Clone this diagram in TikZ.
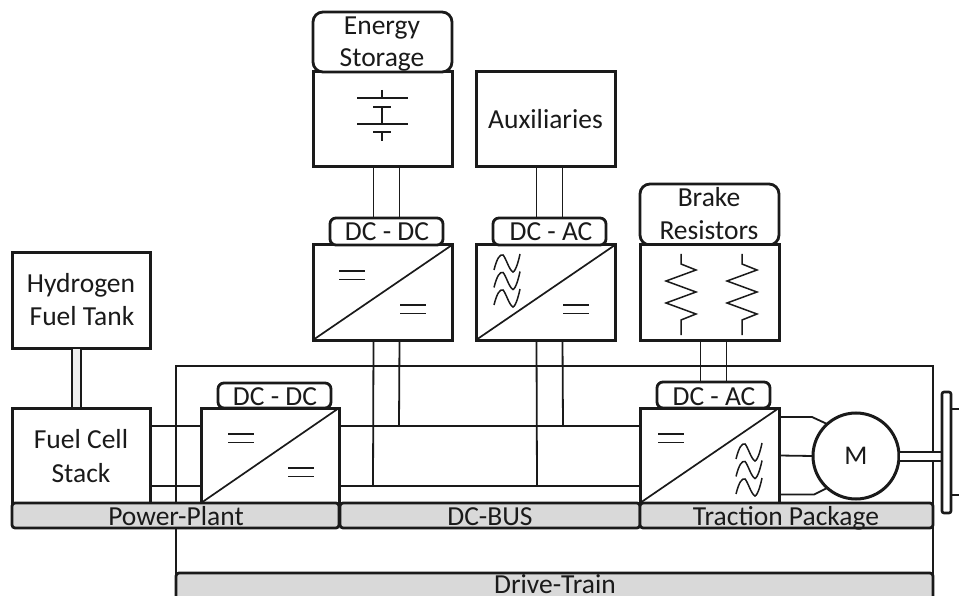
\documentclass[tikz,border=0pt]{standalone}
\usepackage{fontspec}
\setmainfont{Carlito}
\definecolor{ink}{HTML}{1A1A1A}
\definecolor{barfill}{HTML}{D9D9D9}
\definecolor{pipefill}{HTML}{EFEFEF}
\tikzset{
  base/.style={draw=ink,inner sep=0pt,outer sep=0pt,text=ink,font=\fontsize{27}{33}\selectfont,align=center},
  unitbox/.style={base,rectangle,line width=3pt,fill=white,anchor=north west,minimum width=139pt,minimum height=95pt},
  capbox/.style={base,rectangle,rounded corners=10pt,line width=2.8pt,fill=white,anchor=north west,minimum width=139pt,minimum height=60pt},
  tagbox/.style={base,rectangle,rounded corners=6pt,line width=2.8pt,fill=white,anchor=north west,minimum width=113pt,minimum height=27pt},
  barbox/.style={base,rectangle,rounded corners=3pt,line width=2.8pt,fill=barfill,anchor=north west,minimum height=25pt},
  wire/.style={draw=ink,line width=1.8pt},
  sym/.style={draw=ink,line width=1.5pt},
  lbl/.style={inner sep=0pt,outer sep=0pt,text=ink,anchor=base,font=\fontsize{27.5}{33}\selectfont},
}
\newcommand{\eqsign}[2]{\draw[sym] (#1,#2) -- ++(26,0) (#1,#2+8.5) -- ++(26,0);}
\newcommand{\onewave}[2]{\draw[sym] (#1,#2+16) .. controls (#1+3,#2+4) and (#1+6,#2) .. (#1+9,#2+1) .. controls (#1+12,#2+4) and (#1+15,#2+16) .. (#1+19,#2+18) .. controls (#1+22,#2+17) and (#1+25,#2+5) .. (#1+26,#2);}
\newcommand{\acsign}[2]{\onewave{#1}{#2}\onewave{#1}{#2+17.5}\onewave{#1}{#2+35}}
\newcommand{\zigzag}[1]{\draw[sym] (#1,254) -- (#1,264) -- (#1+15,270) -- (#1-15,281) -- (#1+15,292) -- (#1-15,303) -- (#1+15,314) -- (#1,320) -- (#1,335);}
\begin{document}
\begin{tikzpicture}[x=1pt,y=-1pt]
\useasboundingbox (0,0) rectangle (959,596);
\clip (0,0) rectangle (959,596);
% drive-train outline
\node[base,rectangle,line width=2.8pt,anchor=north west,minimum width=757pt,minimum height=230pt] (drive) at (176,366) {};
% bus ends and junctions
\coordinate (busTopL) at (339,426);
\coordinate (busTopR) at (640,426);
\coordinate (busBotL) at (339,486);
\coordinate (busBotR) at (640,486);
\draw[wire] (busTopL) -- (busTopR);
\draw[wire] (busBotL) -- (busBotR);
\coordinate (j1) at (373,486);
\coordinate (j2) at (399,426);
\coordinate (j3) at (537,486);
\coordinate (j4) at (563,426);
% boxes
\node[unitbox] (es) at (313,72) {};
\node[capbox] (escap) at (313,12) {};
\node[unitbox] (aux) at (476,72) {\fontsize{27.5}{33}\selectfont Auxiliaries};
\node[unitbox] (conv1) at (313,245) {};
\node[tagbox] (tag1) at (330,218) {};
\node[unitbox] (conv2) at (476,245) {};
\node[tagbox] (tag2) at (493,218) {};
\node[capbox,minimum height=61pt] (brcap) at (640,184) {};
\node[unitbox] (br) at (640,245) {};
\node[tagbox,minimum height=26pt] (tag3) at (657,382) {};
\node[unitbox] (conv3) at (640,408) {};
\node[tagbox,minimum height=25pt] (tag4) at (218,383) {};
\node[unitbox,minimum width=138pt] (conv4) at (201,408) {};
\node[unitbox,minimum width=138pt] (fc) at (12,408) {};
\node[unitbox,minimum width=138pt] (tank) at (12,253) {};
% connectors
\draw[wire] ([xshift=-9pt]es.south) -- ([xshift=-9pt]conv1.north |- tag1.north);
\draw[wire] ([xshift=17pt]es.south) -- ([xshift=17pt]conv1.north |- tag1.north);
\draw[wire] ([xshift=-9pt]aux.south) -- ([xshift=-9pt]conv2.north |- tag2.north);
\draw[wire] ([xshift=17pt]aux.south) -- ([xshift=17pt]conv2.north |- tag2.north);
\draw[wire] ([xshift=-9pt]conv1.south) -- (j1);
\draw[wire] ([xshift=17pt]conv1.south) -- (j2);
\draw[wire] ([xshift=-9pt]conv2.south) -- (j3);
\draw[wire] ([xshift=17pt]conv2.south) -- (j4);
\draw[wire] ([xshift=-9pt]br.south) -- ([xshift=-9pt]br.south |- tag3.north);
\draw[wire] ([xshift=17pt]br.south) -- ([xshift=17pt]br.south |- tag3.north);
\draw[wire] ([yshift=29.5pt]fc.east) -- ([yshift=29.5pt]conv4.west);
\draw[wire] ([yshift=-30.5pt]fc.east) -- ([yshift=-30.5pt]conv4.west);
\node[base,rectangle,line width=2.2pt,fill=pipefill,anchor=north west,minimum width=9pt,minimum height=60pt] (pipe) at (72,348) {};
% motor
\node[base,circle,line width=3pt,fill=white,minimum size=86pt,anchor=center] (motor) at (856,456) {M};
\draw[wire] ([yshift=38.5pt]conv3.east) -- ++(33,0) -- (motor.132);
\draw[wire] (conv3.east) -- (motor.west);
\draw[wire] ([yshift=-39pt]conv3.east) -- ++(35,0) -- (motor.228);
% shaft and wheel
\node[base,rectangle,line width=2.4pt,fill=white,anchor=north west,minimum width=43pt,minimum height=9pt] (shaft) at (899,452) {};
\node[base,rectangle,rounded corners=2pt,line width=2.6pt,fill=white,anchor=north west,minimum width=9pt,minimum height=121pt] (wheel) at (942,392) {};
\node[base,rectangle,line width=2.4pt,anchor=north west,minimum width=30pt,minimum height=86pt] (rim) at (951,409) {};
% diagonals
\draw[sym,line width=1.7pt] (conv1.south west) -- (conv1.north east);
\draw[sym,line width=1.7pt] (conv2.south west) -- (conv2.north east);
\draw[sym,line width=1.7pt] (conv3.south west) -- (conv3.north east);
\draw[sym,line width=1.7pt] (conv4.south west) -- (conv4.north east);
% symbols
\eqsign{339}{271}\eqsign{400}{305}
\eqsign{563}{305}\acsign{494}{254}
\eqsign{658}{434}\acsign{736}{443}
\eqsign{228}{434}\eqsign{288}{468}
\draw[sym] (382,90) -- (382,98) (357,98) -- (408,98) (373,107) -- (391,107) (382,107) -- (382,124) (357,124) -- (408,124) (373,132) -- (391,132) (382,132) -- (382,141);
\zigzag{681}\zigzag{742}
% bars
\node[barbox,minimum width=327pt] (bpp) at (12,503) {};
\node[barbox,minimum width=300pt] (bdc) at (340,503) {};
\node[barbox,minimum width=293pt] (btp) at (640,503) {};
\node[barbox,minimum width=757pt,minimum height=40pt] (bdt) at (176,573) {};
% labels
\node[lbl] (t1) at (382,35) {Energy};
\node[lbl] (t2) at (382,67) {Storage};
\node[lbl] (t3) at (387,241) {DC - DC};
\node[lbl] (t4) at (551,241) {DC - AC};
\node[lbl] (t5) at (709,207) {Brake};
\node[lbl] (t6) at (709,240) {Resistors};
\node[lbl] (t7) at (714,405) {DC - AC};
\node[lbl] (t8) at (275,405) {DC - DC};
\node[lbl] (t9) at (81,293) {Hydrogen};
\node[lbl] (t10) at (82,326) {Fuel Tank};
\node[lbl] (t11) at (81,448) {Fuel Cell};
\node[lbl] (t12) at (81,482) {Stack};
\node[lbl] (t13) at (176,525) {Power-Plant};
\node[lbl] (t14) at (490,525) {DC-BUS};
\node[lbl] (t15) at (786,525) {Traction Package};
\node[lbl] (t16) at (555,593) {Drive-Train};
\end{tikzpicture}
\end{document}
